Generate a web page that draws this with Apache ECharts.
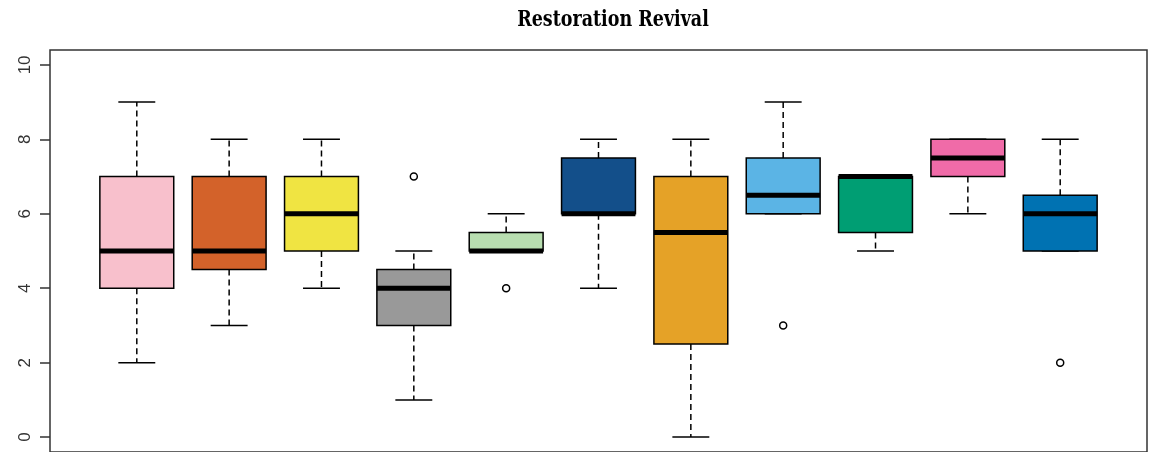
<!DOCTYPE html>
<html>
<head>
<meta charset="utf-8">
<title>Restoration Revival</title>
<script src="https://cdn.jsdelivr.net/npm/echarts@6/dist/echarts.min.js"></script>
<style>
  html, body { margin: 0; padding: 0; background: #fff; }
  #chart { width: 1149px; height: 452px; }
</style>
</head>
<body>
<div id="chart"></div>
<script>
// box statistics, one entry per group (left to right)
const groups = [1, 2, 3, 4, 5, 6, 7, 8, 9, 10, 11];
const lows = [2, 3, 4, 1, 5, 4, 0, 6, 5, 6, 5];
const q1s = [4, 4.5, 5, 3, 5, 6, 2.5, 6, 5.5, 7, 5];
const medians = [5, 5, 6, 4, 5, 6, 5.5, 6.5, 7, 7.5, 6];
const q3s = [7, 7, 7, 4.5, 5.5, 7.5, 7, 7.5, 7, 8, 6.5];
const highs = [9, 8, 8, 5, 6, 8, 8, 9, 7, 8, 8];
const outliers = [[4, 7], [5, 4], [8, 3], [11, 2]];
const yTicks = [0, 2, 4, 6, 8, 10];
const colors = ["#F8C0CC", "#D3622A", "#F0E442", "#999999", "#B8DEB0", "#134F8A",
  "#E5A227", "#5BB4E5", "#009E73", "#F06BA8", "#0072B2"];

const boxData = groups.map((g, i) => [g, lows[i], q1s[i], medians[i], q3s[i], highs[i]]);

const myChart = echarts.init(document.getElementById("chart"));

// draw one R style box: dashed whiskers, staples, filled box, thick median
const renderBox = (params, api) => {
  const x = api.value(0);
  const pLow = api.coord([x, api.value(1)]);
  const pQ1 = api.coord([x, api.value(2)]);
  const pMed = api.coord([x, api.value(3)]);
  const pQ3 = api.coord([x, api.value(4)]);
  const pHigh = api.coord([x, api.value(5)]);
  const halfBox = api.size([0.8, 0])[0] / 2;
  const halfCap = api.size([0.4, 0])[0] / 2;
  const cx = pMed[0];
  const dashed = { stroke: "#000", lineWidth: 1.5, lineDash: [6, 4] };
  const solid = { stroke: "#000", lineWidth: 1.5 };
  return {
    type: "group",
    children: [
      { type: "line", shape: { x1: cx, y1: pQ1[1], x2: cx, y2: pLow[1] }, style: dashed },
      { type: "line", shape: { x1: cx, y1: pQ3[1], x2: cx, y2: pHigh[1] }, style: dashed },
      { type: "line", shape: { x1: cx - halfCap, y1: pLow[1], x2: cx + halfCap, y2: pLow[1] }, style: solid },
      { type: "line", shape: { x1: cx - halfCap, y1: pHigh[1], x2: cx + halfCap, y2: pHigh[1] }, style: solid },
      {
        type: "rect",
        shape: { x: cx - halfBox, y: pQ3[1], width: halfBox * 2, height: pQ1[1] - pQ3[1] },
        style: { fill: colors[params.dataIndex], stroke: "#000", lineWidth: 1.5 },
      },
      { type: "line", shape: { x1: cx - halfBox, y1: pMed[1], x2: cx + halfBox, y2: pMed[1] }, style: { stroke: "#000", lineWidth: 5 } },
    ],
  };
};

const option = {
  animation: false,
  graphic: [
    {
      type: "text",
      x: 613,
      y: 20,
      scaleY: 1.25,
      style: {
        text: "Restoration Revival",
        font: 'bold 17.5px "DejaVu Serif"',
        fill: "#000",
        align: "center",
        verticalAlign: "middle",
      },
    },
  ],
  grid: {
    left: 50,
    top: 50,
    width: 1097,
    height: 406,
    show: true,
    borderColor: "#333",
    borderWidth: 1.5,
    backgroundColor: "transparent",
  },
  xAxis: {
    type: "value",
    min: 0.06,
    max: 11.94,
    show: false,
  },
  yAxis: {
    type: "value",
    min: -0.4,
    max: 10.4,
    axisLine: { show: false },
    splitLine: { show: false },
    axisTick: {
      show: true,
      length: 10,
      customValues: yTicks,
      lineStyle: { color: "#333", width: 1.5 },
    },
    axisLabel: {
      customValues: yTicks,
      rotate: 90,
      margin: 16,
      fontSize: 17,
      fontFamily: "Liberation Sans",
      color: "#333",
    },
  },
  series: [
    {
      type: "custom",
      renderItem: renderBox,
      data: boxData,
      encode: { x: 0, y: [1, 2, 3, 4, 5] },
      clip: false,
    },
    {
      type: "scatter",
      data: outliers,
      symbol: "circle",
      symbolSize: 7,
      z: 5,
      itemStyle: { color: "#fff", borderColor: "#000", borderWidth: 1.5, opacity: 1 },
    },
  ],
};
myChart.setOption(option);
</script>
</body>
</html>
